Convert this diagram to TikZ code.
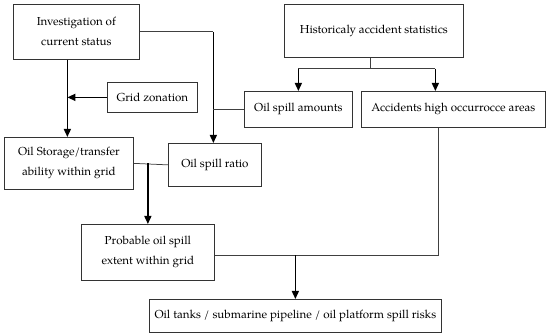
\documentclass[tikz,border=0pt]{standalone}
\usepackage{fontspec}
\setmainfont{TeX Gyre Pagella}
\usetikzlibrary{arrows.meta,calc}
\begin{document}
\begin{tikzpicture}[x=1pt,y=-1pt,
  box/.style={draw=black!80,line width=0.75pt,inner sep=0pt,align=center,
    font=\fontsize{11.6}{20}\selectfont,anchor=north west},
  arr/.style={line width=1.4pt,-{Triangle[length=8pt,width=7pt]}},
  thin/.style={line width=0.75pt,draw=black!75}]
\useasboundingbox (0,0) rectangle (550,336);
\node[box,minimum width=126pt,minimum height=55pt] (inv) at (13,4) {Investigation of\\current status};
\node[box,minimum width=179pt,minimum height=53pt] (hist) at (284,4) {Historicaly accident statistics};
\node[box,minimum width=90pt,minimum height=30pt] (grid) at (107,82) {Grid zonation};
\node[box,minimum width=108pt,minimum height=36pt] (amt) at (244,91) {Oil spill amounts};
\node[box,minimum width=184pt,minimum height=36pt] (acc) at (361,91) {Accidents high occurrocce areas};
\node[box,minimum width=129pt,minimum height=52pt] (sto) at (4,137) {Oil Storage/transfer\\ability within grid};
\node[box,minimum width=93pt,minimum height=43pt] (rat) at (168,143) {Oil spill ratio};
\node[box,minimum width=133pt,minimum height=56pt] (prob) at (81,224) {Probable oil spill\\extent within grid};
\node[box,minimum width=292pt,minimum height=33pt] (fin) at (149,299) {Oil tanks / submarine pipeline / oil platform spill risks};
\coordinate (hj) at ($(hist.south)+(-4,11)$);
\coordinate (accin) at ([xshift=-18pt]acc.north);
\coordinate (accout) at ([xshift=-15pt]acc.south);
\coordinate (stoin) at ([xshift=-1.5pt]sto.north);
\coordinate (ratin) at ([xshift=-1.5pt]rat.north);
% investigation -> storage
\draw[arr] (inv.south -| stoin) -- (stoin);
\draw[arr] (grid.west) -- (grid.west -| stoin);
% investigation -> ratio
\draw[thin] (inv.east) -- (inv.east -| ratin);
\draw[arr] (inv.east -| ratin) -- (ratin);
\draw[thin] (amt.west) -- (amt.west -| ratin);
% historical
\draw[thin] ([xshift=-4pt]hist.south) -- (hj);
\draw[thin] (hj -| amt.north) -- (hj -| accin);
\draw[arr] (hj -| amt.north) -- (amt.north);
\draw[arr] (hj -| accin) -- (accin);
% storage / ratio -> probable
\draw[thin] (sto.east) -- (rat.west);
\draw[arr] (sto.east -| prob.north) -- (prob.north);
% accidents + probable -> final
\coordinate (aj) at ([yshift=-3pt]accout |- prob.east);
\draw[thin] (accout) -- (aj) -- ([yshift=-3pt]prob.east);
\draw[arr] (aj -| fin.north) -- (fin.north);
\end{tikzpicture}
\end{document}
